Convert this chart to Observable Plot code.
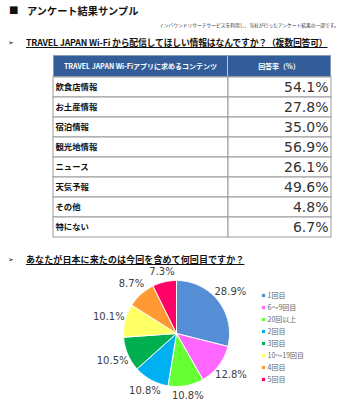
<!DOCTYPE html>
<html><head><meta charset="utf-8">
<script src="https://cdn.jsdelivr.net/npm/d3@7"></script>
<script src="https://cdn.jsdelivr.net/npm/@observablehq/plot@0.6"></script>
<style>
html,body{margin:0;padding:0;background:#fff;}
body{width:346px;height:400px;position:relative;overflow:hidden;font-family:"Noto Sans CJK JP",sans-serif;color:#111;}
.abs{position:absolute;white-space:nowrap;}
</style></head><body>
<script>
// ---------- data ----------
const pageTitle = "アンケート結果サンプル";
const pageSubtitle = "インバウンドリサーチサービスを利用し、当社が行ったアンケート結果の一部です。";
const question1 = "TRAVEL JAPAN Wi-Fi から配信してほしい情報はなんですか？（複数回答可）";
const question2 = "あなたが日本に来たのは今回を含めて何回目ですか？";
const tableHeaders = ["TRAVEL JAPAN Wi-Fiアプリに求めるコンテンツ", "回答率（%）"];
const contentCategories = ["飲食店情報", "お土産情報", "宿泊情報", "観光地情報", "ニュース", "天気予報", "その他", "特にない"];
const contentRates = [54.1, 27.8, 35.0, 56.9, 26.1, 49.6, 4.8, 6.7];
const visitCategories = ["1回目", "6～9回目", "20回以上", "2回目", "3回目", "10～19回目", "4回目", "5回目"];
const visitShares = [28.9, 12.8, 10.8, 10.8, 10.5, 10.1, 8.7, 7.3];

// ---------- styles ----------
const visitColors = ["#558ed5", "#ff66ff", "#66ff33", "#00b0f0", "#00b050", "#ffff66", "#ff9933", "#ff0066"];
const jp = '"Noto Sans CJK JP", sans-serif';
const num = '"DejaVu Sans", Verdana, sans-serif';

function add(html, css) {
  const d = document.createElement("div");
  d.className = "abs";
  d.innerHTML = html;
  Object.assign(d.style, css);
  document.body.appendChild(d);
  return d;
}
function place(node, left, top) {
  const d = document.createElement("div");
  d.className = "abs";
  Object.assign(d.style, {left: left + "px", top: top + "px"});
  d.appendChild(node);
  document.body.appendChild(d);
}

// titles
add("■", {left: "9px", top: "3px", fontSize: "10px", lineHeight: "14px", fontFamily: num});
add(pageTitle, {left: "27px", top: "3px", fontSize: "10.2px", lineHeight: "15px", fontWeight: "bold"});
add(pageSubtitle, {left: "159px", top: "22px", fontSize: "4.75px", lineHeight: "6px", color: "#333"});
add("➢", {left: "8px", top: "38px", fontSize: "7px", lineHeight: "10px", fontFamily: num});
add(question1, {left: "26px", top: "37px", fontSize: "8.8px", lineHeight: "12px", fontWeight: "bold", textDecoration: "underline", letterSpacing: "-0.15px"});
add("➢", {left: "8px", top: "255px", fontSize: "7px", lineHeight: "10px", fontFamily: num});
add(question2, {left: "26px", top: "254px", fontSize: "9px", lineHeight: "12px", fontWeight: "bold", textDecoration: "underline", letterSpacing: "0.1px"});

// table header
const hdr = add("", {left: "53px", top: "55px", width: "278px", height: "22px", display: "flex", background: "#335d98", boxSizing: "border-box", border: "1px solid #8a9ab5"});
tableHeaders.forEach((h, i) => {
  const c = document.createElement("div");
  Object.assign(c.style, {width: i === 0 ? "174px" : "102px", height: "20px", lineHeight: "20px", textAlign: "center", color: "#fff", fontWeight: "bold", fontSize: "7px", borderRight: i === 0 ? "1px solid #b8c4d8" : "none", boxSizing: "border-box"});
  c.textContent = h;
  hdr.appendChild(c);
});

// table body
const rows = contentCategories.map((c, i) => ({cat: c, rate: contentRates[i]}));
const yBand = {type: "band", domain: contentCategories, axis: null, padding: 0};
const labelCol = Plot.plot({
  width: 175, height: 160, margin: 0, y: yBand,
  style: {overflow: "visible", background: "transparent"},
  marks: [
    Plot.cell(rows, {y: "cat", fill: "#fff", stroke: "#9a9a9a"}),
    Plot.text(rows, {y: "cat", text: "cat", frameAnchor: "left", dx: 2, fontWeight: "bold", fontSize: 8.4, fill: "#111", fontFamily: jp})
  ]
});
const valueCol = Plot.plot({
  width: 103, height: 160, margin: 0, y: yBand,
  style: {overflow: "visible", background: "transparent"},
  marks: [
    Plot.cell(rows, {y: "cat", fill: "#fff", stroke: "#9a9a9a"}),
    Plot.text(rows, {y: "cat", text: d => d.rate.toFixed(1) + "%", frameAnchor: "right", dx: -3, fontSize: 14, fill: "#333", fontFamily: num})
  ]
});
place(labelCol, 53, 77);
place(valueCol, 228, 77);

// pie
const R = 53;
const total = d3.sum(visitShares);
let acc = 0;
const slicePts = [], pieLabels = [];
visitCategories.forEach((c, i) => {
  const a0 = acc / total * 2 * Math.PI;
  acc += visitShares[i];
  const a1 = acc / total * 2 * Math.PI;
  slicePts.push({cat: c, x: 0, y: 0});
  const n = Math.max(2, Math.ceil((a1 - a0) / (Math.PI / 180)));
  for (let k = 0; k <= n; k++) {
    const a = a0 + (a1 - a0) * k / n;
    slicePts.push({cat: c, x: R * Math.sin(a), y: R * Math.cos(a)});
  }
  slicePts.push({cat: c, x: 0, y: 0});
  const m = (a0 + a1) / 2;
  const rl = 62 + 8 * Math.abs(Math.sin(m));
  pieLabels.push({cat: c, x: rl * Math.sin(m), y: rl * Math.cos(m), text: visitShares[i].toFixed(1) + "%"});
});
const colorScale = {type: "ordinal", domain: visitCategories, range: visitColors};
const pie = Plot.plot({
  width: 200, height: 140, margin: 0,
  x: {domain: [-100, 100], axis: null},
  y: {domain: [-70, 70], axis: null},
  color: colorScale,
  style: {overflow: "visible", background: "transparent"},
  marks: [
    Plot.line(slicePts, {x: "x", y: "y", z: "cat", fill: "cat", stroke: "#fff", strokeWidth: 1, strokeLinejoin: "round"}),
    Plot.text(pieLabels, {x: "x", y: "y", text: "text", fontSize: 10, fill: "#404040", fontFamily: num})
  ]
});
place(pie, 76, 263);

// legend
const legend = Plot.plot({
  width: 84, height: 96, margin: 0,
  y: {type: "band", domain: visitCategories, axis: null, padding: 0},
  color: colorScale,
  style: {overflow: "visible", background: "transparent"},
  marks: [
    Plot.dot(visitCategories, {y: d => d, fill: d => d, symbol: "square", r: 1.8, frameAnchor: "left", dx: 3}),
    Plot.text(visitCategories, {y: d => d, text: d => d, frameAnchor: "left", dx: 7, fontSize: 7, fill: "#666", fontFamily: jp})
  ]
});
place(legend, 260, 289);
</script>
</body></html>
